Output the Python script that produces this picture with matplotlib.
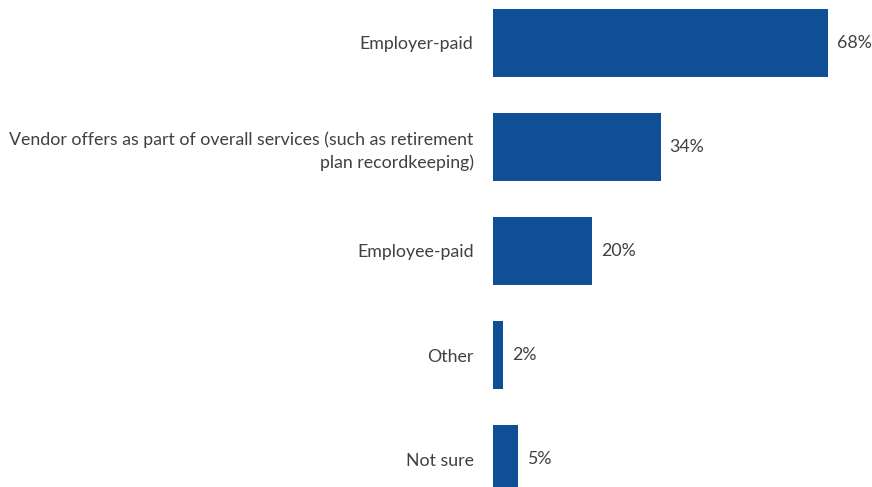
import matplotlib
matplotlib.use("Agg")
import matplotlib.pyplot as plt

categories = [
    "Employer-paid",
    "Vendor offers as part of overall services (such as retirement\nplan recordkeeping)",
    "Employee-paid",
    "Other",
    "Not sure",
]
values = [68, 34, 20, 2, 5]

plt.rcParams['font.family'] = ['Lato', 'DejaVu Sans']

fig = plt.figure(figsize=(8.72, 4.87), dpi=100)
ax = fig.add_axes([493 / 872, 0, 379 / 872, 1])

bar_color = '#0F4F96'
text_color = '#404040'

pos = list(range(len(categories)))
ax.barh(pos, values, height=0.65, color=bar_color)

for p, v in zip(pos, values):
    ax.annotate(f"{v}%", (v, p), xytext=(6.5, 0), textcoords="offset points",
                va='center', ha='left', fontsize=12.8, color=text_color)

ax.set_yticks(pos)
ax.set_yticklabels(categories, fontsize=12.8, color=text_color, linespacing=1.45)
ax.tick_params(axis='y', length=0, pad=14)
ax.set_xticks([])
for s in ax.spines.values():
    s.set_visible(False)

ax.set_xlim(0, 379 / 4.93)
ax.set_ylim(4.269, -0.413)

fig.savefig("out.png", dpi=100)
